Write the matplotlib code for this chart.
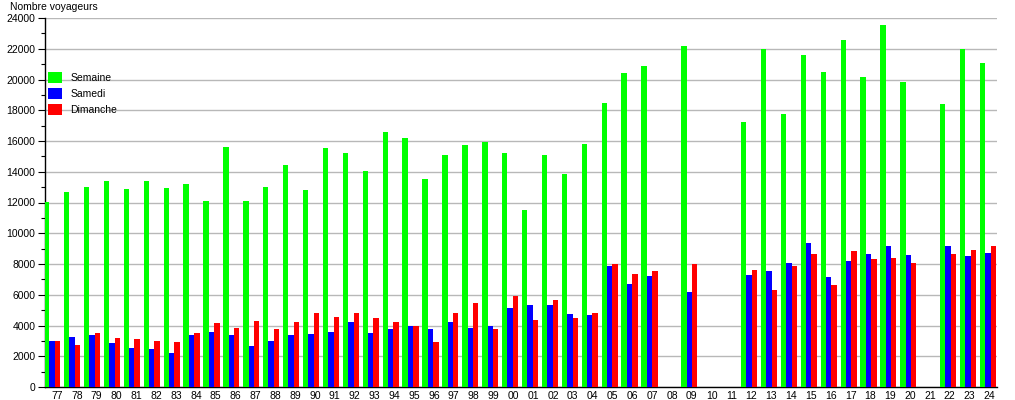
import numpy as np
import matplotlib
matplotlib.use("Agg")
import matplotlib.pyplot as plt
from matplotlib.patches import Patch
from matplotlib.ticker import MultipleLocator

nan = np.nan
years = ["77", "78", "79", "80", "81", "82", "83", "84", "85", "86", "87", "88",
         "89", "90", "91", "92", "93", "94", "95", "96", "97", "98", "99", "00",
         "01", "02", "03", "04", "05", "06", "07", "08", "09", "10", "11", "12",
         "13", "14", "15", "16", "17", "18", "19", "20", "21", "22", "23", "24"]

semaine = [12050, 12700, 13000, 13400, 12880, 13400, 12950, 13200, 12100, 15600, 12100, 13000,
           14450, 12820, 15540, 15220, 14050, 16580, 16190, 13530, 15090, 15740, 15930, 15220,
           11510, 15090, 13860, 15800, 18470, 20410, 20870, nan, 22170, nan, nan, 17230,
           21970, 17750, 21580, 20480, 22560, 20160, 23530, 19830, nan, 18400, 21970, 21100]

samedi = [3010, 3270, 3400, 2880, 2550, 2490, 2230, 3400, 3590, 3400, 2680, 3010,
          3400, 3460, 3590, 4240, 3520, 3780, 3980, 3780, 4240, 3850, 3980, 5150,
          5340, 5340, 4760, 4690, 7870, 6700, 7220, nan, 6180, nan, nan, 7290,
          7550, 8070, 9360, 7160, 8200, 8650, 9170, 8580, nan, 9170, 8520, 8710]

dimanche = [3010, 2750, 3520, 3200, 3140, 3010, 2940, 3520, 4170, 3850, 4300, 3780,
            4240, 4820, 4560, 4820, 4500, 4240, 3980, 2940, 4820, 5470, 3780, 5920,
            4370, 5670, 4500, 4820, 8000, 7350, 7550, nan, 8000, nan, nan, 7610,
            6310, 7870, 8650, 6640, 8840, 8320, 8390, 8070, nan, 8650, 8910, 9170]

series_names = ["Semaine", "Samedi", "Dimanche"]
colors = ["#00ff00", "#0000ff", "#ff0000"]

plt.rcParams['font.family'] = ['Liberation Sans', 'DejaVu Sans']

fig = plt.figure(figsize=(10.15, 4.0), dpi=100)
W, H = 1015, 400
ax = fig.add_axes([45 / W, 1 - 387 / H, (997 - 45) / W, (387 - 18) / H])

x = np.arange(len(years))
bw = 0.27
for k, (vals, c) in enumerate(zip([semaine, samedi, dimanche], colors)):
    ax.bar(x + bw * (k + 0.5), np.array(vals, dtype=float), width=bw, color=c,
           linewidth=0, zorder=3)

ax.set_xlim(0.045, 47.86)
ax.set_ylim(0, 24000)

ax.yaxis.set_major_locator(MultipleLocator(2000))
ax.yaxis.set_minor_locator(MultipleLocator(1000))
ax.grid(axis='y', which='major', color='#b8b8b8', linewidth=1.0, zorder=0)
ax.set_axisbelow(True)

tick_pos = 0.65 + x * (47.48 - 0.65) / 47
ax.set_xticks(tick_pos)
ax.set_xticklabels(years)
ax.tick_params(axis='x', length=0, labelsize=7.5, pad=3)
ax.tick_params(axis='y', which='major', length=5, width=0.8, labelsize=7.5, pad=2)
ax.tick_params(axis='y', which='minor', length=3, width=0.8)

for s in ['top', 'right']:
    ax.spines[s].set_visible(False)
for s in ['left', 'bottom']:
    ax.spines[s].set_linewidth(1.0)
    ax.spines[s].set_color('black')

fig.text(10 / W, 1 - 2 / H, "Nombre voyageurs", fontsize=7.5, ha='left', va='top')

handles = [Patch(facecolor=c, edgecolor='none') for c in colors]
fig.legend(handles, series_names, loc='upper left',
           bbox_to_anchor=(48 / W, 1 - 72 / H), bbox_transform=fig.transFigure,
           frameon=False, fontsize=7.5, handlelength=1.3, handleheight=1.3,
           handletextpad=0.85, labelspacing=0.45, borderpad=0, borderaxespad=0)

fig.savefig("out.png", dpi=100)
